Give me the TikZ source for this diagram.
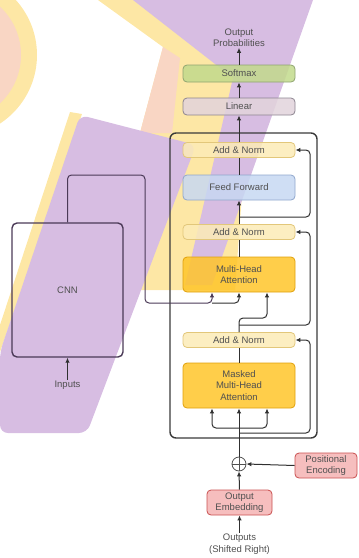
\documentclass[tikz,border=0pt]{standalone}
\usepackage{fontspec}
\setmainfont{Liberation Sans}
\usepackage{tikz}
\usetikzlibrary{arrows.meta,positioning}
\usepackage{xcolor}
\definecolor{txtgray}{HTML}{505050}
\definecolor{linegray}{HTML}{303030}
\definecolor{framegray}{HTML}{3A3A3A}
\definecolor{cnnline}{HTML}{4B3A57}
\definecolor{normfill}{HTML}{FCEBB6}
\definecolor{normdraw}{HTML}{E2C77A}
\definecolor{fffill}{HTML}{C7D8F2}
\definecolor{ffdraw}{HTML}{8FA6CC}
\definecolor{attnfill}{HTML}{FFC52A}
\definecolor{attndraw}{HTML}{E0A10C}
\definecolor{linfill}{HTML}{E2D4DC}
\definecolor{lindraw}{HTML}{8C8490}
\definecolor{softfill}{HTML}{C2DA8C}
\definecolor{softdraw}{HTML}{8FA470}
\definecolor{embfill}{HTML}{F5B3B3}
\definecolor{embdraw}{HTML}{C95050}
\definecolor{purplebg}{HTML}{D7BDE2}
\definecolor{yellowbg}{HTML}{FDE7A5}
\definecolor{peachbg}{HTML}{F9D6C4}
\tikzset{
  blk/.style={draw, line width=0.8pt, rounded corners=4pt, minimum width=112pt,
    align=center, inner sep=1pt, text=txtgray, fill opacity=0.85, text opacity=1},
  normbox/.style={blk, fill=normfill, draw=normdraw, minimum height=15pt},
  ffbox/.style={blk, fill=fffill, draw=ffdraw, minimum height=25pt},
  attnbox/.style={blk, fill=attnfill, draw=attndraw},
  linbox/.style={blk, fill=linfill, draw=lindraw, minimum height=17pt},
  softbox/.style={blk, fill=softfill, draw=softdraw, minimum height=17pt},
  embedbox/.style={blk, fill=embfill, draw=embdraw, minimum height=25pt},
  label/.style={align=center, text=txtgray, inner sep=1pt},
  flow/.style={-{Latex[length=5pt,width=4.5pt]}, line width=1pt, draw=linegray, rounded corners=4pt},
  wire/.style={line width=1pt, draw=linegray, rounded corners=4pt},
  outline/.style={draw=framegray, line width=1.4pt, rounded corners=6pt}
}

\begin{document}
\begin{tikzpicture}[x=1pt, y=-1pt, font=\fontsize{9.5}{11.5}\selectfont]
  \useasboundingbox (0,0) rectangle (359,558);

  % background marks
  \fill[yellowbg] (-45,55) circle (82);
  \fill[peachbg] (-45,55) circle (66);
  \fill[yellowbg] (98,0) -- (135,0) -- (250,85) -- (235,290) -- (140,290)
    -- (140,133) -- (163,47) -- cycle;
  \fill[peachbg] (163,47) -- (180,58) -- (172,133) -- (140,133) -- cycle;
  \fill[purplebg] (133,0) -- (313,0) -- (212,285) -- (185,285) -- (233,78) -- cycle;
  \fill[yellowbg] (70,112) -- (82,114) -- (0,352) -- (0,325) -- cycle;
  \fill[purplebg, rounded corners=8pt] (80,115) -- (196,145) -- (87,433)
    -- (0,433) -- (0,352) -- cycle;

  % decoder stack
  \node[outline, minimum width=147pt, minimum height=305pt] (decoder) at (243.5,285.5) {};
  \node[label] (probs) at (239,37.5) {Output\\Probabilities};
  \node[softbox] (softmax) at (239,73.5) {Softmax};
  \node[linbox] (linear) at (239,106.5) {Linear};
  \node[normbox] (norm1) at (239,150) {Add \& Norm};
  \node[ffbox] (ff) at (239,187.5) {Feed Forward};
  \node[normbox] (norm2) at (239,232) {Add \& Norm};
  \node[attnbox, minimum height=35pt] (mha) at (239,274.5) {Multi-Head\\Attention};
  \node[normbox] (norm3) at (239,340) {Add \& Norm};
  \node[attnbox, minimum height=45pt] (masked) at (239,385.5) {Masked\\Multi-Head\\Attention};
  \node[circle, draw=txtgray, line width=0.8pt, minimum size=14pt, inner sep=0pt] (plus) at (239,464) {};
  \draw[txtgray, line width=0.8pt] (plus.north) -- (plus.south) (plus.west) -- (plus.east);
  \node[embedbox, minimum width=62pt] (posenc) at (326,465.5) {Positional\\Encoding};
  \node[embedbox, minimum width=65pt] (outemb) at (239.5,502.5) {Output\\Embedding};
  \node[label] (outs) at (239.5,544) {Outputs\\(Shifted Right)};

  % cnn side
  \node[draw=cnnline, line width=1.4pt, rounded corners=5pt, minimum width=111pt,
    minimum height=134pt, text=txtgray] (cnn) at (67.5,290) {CNN};
  \node[label] (ins) at (67.5,385) {Inputs};

  \coordinate (split) at (239,428);
  \coordinate (res3) at (239,433);
  \coordinate (turn2) at (239,318);
  \coordinate (res2) at (239,325);
  \coordinate (res1) at (239,217);
  \coordinate (kv) at (212,303);

  \draw[flow] (outs.north) -- (outemb.south);
  \draw[flow] (outemb.north) -- (plus.south);
  \draw[flow] (posenc.west) -- (plus.east);
  \draw[flow] (plus.north) -- (masked.south);
  \draw[flow] (split) -| ([xshift=-27pt]masked.south);
  \draw[flow] (split) -| ([xshift=28pt]masked.south);
  \draw[flow] (res3) -- (310,433) |- (norm3.east);
  \draw[wire] (masked.north) -- (norm3.south);
  \draw[flow] (norm3.north) -- (turn2) -| ([xshift=28pt]mha.south);
  \draw[flow] (res2) -- (310,325) |- (norm2.east);
  \draw[flow, draw=cnnline] (cnn.north) |- (145,175) -- (145,303) -| ([xshift=-27pt]mha.south);
  \draw[flow] (kv) -| (mha.south);
  \draw[flow] (ins.north) -- (cnn.south);
  \draw[wire] (mha.north) -- (norm2.south);
  \draw[flow] (norm2.north) -- (ff.south);
  \draw[flow] (res1) -- (310,217) |- (norm1.east);
  \draw[wire] (ff.north) -- (norm1.south);
  \draw[flow] (norm1.north) -- (linear.south);
  \draw[flow] (linear.north) -- (softmax.south);
  \draw[flow] (softmax.north) -- (probs.south);
\end{tikzpicture}
\end{document}
